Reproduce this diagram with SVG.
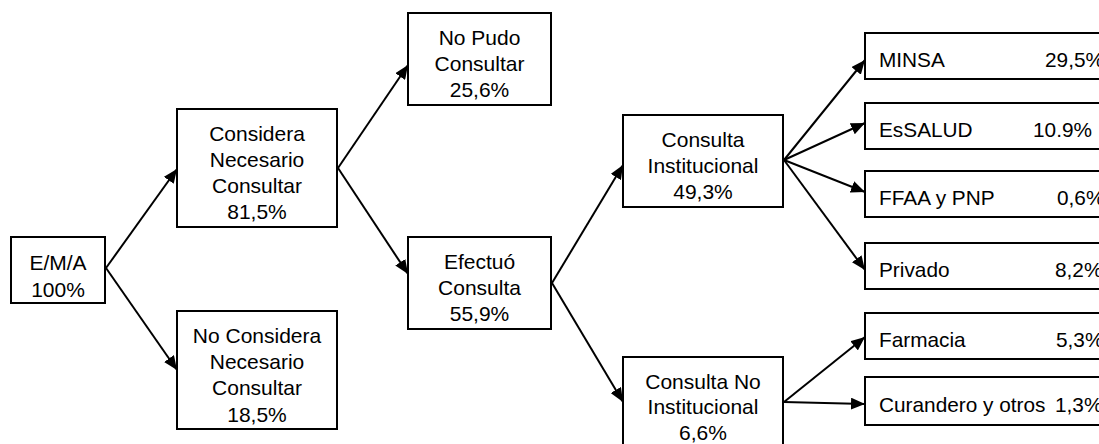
<svg xmlns="http://www.w3.org/2000/svg" width="1099" height="444" viewBox="0 0 1099 444">
<style>
.box{fill:#fff;stroke:#000;stroke-width:2}
text{font-family:"Liberation Sans",Arial,sans-serif;font-size:21px;fill:#000}
.c{text-anchor:middle}
.r{font-size:20.8px}
.conn line{stroke:#000;stroke-width:2;marker-end:url(#ah)}
</style>
<defs>
<marker id="ah" markerUnits="userSpaceOnUse" markerWidth="16" markerHeight="12" refX="14" refY="6" orient="auto">
<path d="M0,0 L14,6 L0,12 Z" fill="#000"/>
</marker>
</defs>
<g class="conn">
<line x1="106" y1="268" x2="177" y2="169"/>
<line x1="106" y1="268" x2="177" y2="370"/>
<line x1="338" y1="168" x2="408" y2="65"/>
<line x1="338" y1="168" x2="408" y2="274"/>
<line x1="552" y1="283" x2="623" y2="165"/>
<line x1="552" y1="283" x2="623" y2="402"/>
<line x1="784" y1="160" x2="865" y2="60"/>
<line x1="784" y1="160" x2="865" y2="123"/>
<line x1="784" y1="160" x2="865" y2="192"/>
<line x1="784" y1="160" x2="865" y2="270"/>
<line x1="784" y1="402" x2="865" y2="337"/>
<line x1="784" y1="402" x2="865" y2="404"/>
</g>
<g id="ema"><rect class="box" x="11" y="237" width="94" height="66"/>
<text class="c" x="58" y="270">E/M/A</text><text class="c" x="58" y="297">100%</text></g>
<g id="considera"><rect class="box" x="177" y="109" width="160" height="118"/>
<text class="c" x="257" y="141">Considera</text><text class="c" x="257" y="167">Necesario</text><text class="c" x="257" y="193">Consultar</text><text class="c" x="257" y="219">81,5%</text></g>
<g id="noconsidera"><rect class="box" x="177" y="311" width="160" height="118"/>
<text class="c" x="257" y="343">No Considera</text><text class="c" x="257" y="369">Necesario</text><text class="c" x="257" y="395">Consultar</text><text class="c" x="257" y="422">18,5%</text></g>
<g id="nopudo"><rect class="box" x="408" y="13" width="143" height="92"/>
<text class="c" x="479.5" y="45">No Pudo</text><text class="c" x="479.5" y="71">Consultar</text><text class="c" x="479.5" y="97">25,6%</text></g>
<g id="efectuo"><rect class="box" x="408" y="237" width="143" height="92"/>
<text class="c" x="479.5" y="269">Efectuó</text><text class="c" x="479.5" y="295">Consulta</text><text class="c" x="479.5" y="321">55,9%</text></g>
<g id="inst"><rect class="box" x="623" y="115" width="160" height="92"/>
<text class="c" x="703" y="147">Consulta</text><text class="c" x="703" y="173">Institucional</text><text class="c" x="703" y="199">49,3%</text></g>
<g id="noinst"><rect class="box" x="623" y="357" width="160" height="95"/>
<text class="c" x="703" y="389">Consulta No</text><text class="c" x="703" y="414">Institucional</text><text class="c" x="703" y="440">6,6%</text></g>
<g id="minsa"><rect class="box" x="865" y="33" width="245" height="46"/>
<text class="r" x="879" y="67">MINSA</text><text class="r" x="1045" y="67">29,5%</text></g>
<g id="essalud"><rect class="box" x="865" y="103" width="245" height="46"/>
<text class="r" x="879" y="137">EsSALUD</text><text class="r" x="1033" y="137">10.9%</text></g>
<g id="ffaa"><rect class="box" x="865" y="171" width="245" height="46"/>
<text class="r" x="879" y="205">FFAA y PNP</text><text class="r" x="1057" y="205">0,6%</text></g>
<g id="privado"><rect class="box" x="865" y="243" width="245" height="46"/>
<text class="r" x="879" y="277">Privado</text><text class="r" x="1055" y="277">8,2%</text></g>
<g id="farmacia"><rect class="box" x="865" y="313" width="245" height="46"/>
<text class="r" x="879" y="347">Farmacia</text><text class="r" x="1056" y="347">5,3%</text></g>
<g id="curandero"><rect class="box" x="865" y="377" width="245" height="48"/>
<text class="r" x="879" y="412">Curandero y otros</text><text class="r" x="1055" y="412">1,3%</text></g>
</svg>
